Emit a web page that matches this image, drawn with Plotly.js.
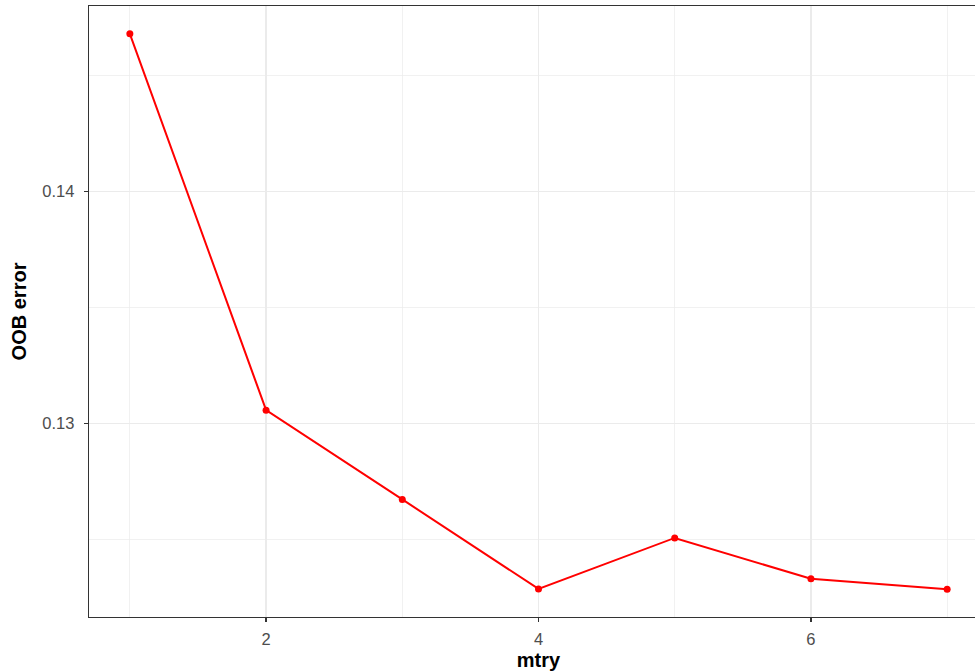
<!DOCTYPE html>
<html>
<head>
<meta charset="utf-8">
<script src="https://cdn.plot.ly/plotly-3.0.1.min.js"></script>
<style>
html,body{margin:0;padding:0;overflow:hidden;background:#fff;}
#chart{width:990px;height:672px;}
</style>
</head>
<body>
<div id="chart"></div>
<script>
const mtry = [1, 2, 3, 4, 5, 6, 7];
const oobError = [0.1468, 0.13057, 0.12672, 0.12286, 0.12506, 0.1233, 0.12285];
const xTickVals = [2, 4, 6];
const xTickText = ["2", "4", "6"];
const yTickVals = [0.13, 0.14];
const yTickText = ["0.13", "0.14"];

const trace = {
  x: mtry,
  y: oobError,
  type: 'scatter',
  mode: 'lines+markers',
  line: {color: '#ff0000', width: 2},
  marker: {color: '#ff0000', size: 7},
  hoverinfo: 'x+y'
};

const layout = {
  width: 990,
  height: 672,
  paper_bgcolor: '#ffffff',
  plot_bgcolor: '#ffffff',
  showlegend: false,
  margin: {l: 89, r: 2, t: 5.5, b: 55, pad: 0},
  font: {family: 'Liberation Sans, Arial, sans-serif', color: '#4d4d4d', size: 16},
  xaxis: {
    range: [0.7, 7.3],
    tickvals: xTickVals,
    ticktext: xTickText,
    ticks: 'outside',
    ticklen: 4,
    tickwidth: 1.2,
    tickcolor: '#333333',
    ticklabelstandoff: 3,
    tickfont: {size: 16.5, color: '#4d4d4d'},
    showline: true,
    mirror: true,
    linecolor: '#333333',
    linewidth: 1.3,
    showgrid: true,
    gridcolor: '#ebebeb',
    gridwidth: 1.2,
    zeroline: false,
    minor: {tickvals: [1, 3, 5, 7], showgrid: true, gridcolor: '#ebebeb', gridwidth: 0.7, ticks: ''},
    title: {text: 'mtry', font: {size: 20, color: '#000000', family: 'Liberation Sans, Arial, sans-serif', weight: 'bold'}, standoff: 6},
    automargin: false
  },
  yaxis: {
    range: [0.12165, 0.148],
    tickvals: yTickVals,
    ticktext: yTickText,
    ticks: 'outside',
    ticklen: 4,
    tickwidth: 1.2,
    tickcolor: '#333333',
    ticklabelstandoff: 6,
    tickfont: {size: 16.5, color: '#4d4d4d'},
    showline: true,
    mirror: true,
    linecolor: '#333333',
    linewidth: 1.3,
    showgrid: true,
    gridcolor: '#ebebeb',
    gridwidth: 1.2,
    zeroline: false,
    minor: {tickvals: [0.125, 0.135, 0.145], showgrid: true, gridcolor: '#ebebeb', gridwidth: 0.7, ticks: ''},
    title: {text: 'OOB error', font: {size: 20, color: '#000000', family: 'Liberation Sans, Arial, sans-serif', weight: 'bold'}, standoff: 10},
    automargin: false
  }
};

Plotly.newPlot('chart', [trace], layout, {displayModeBar: false, staticPlot: true});
</script>
</body>
</html>
